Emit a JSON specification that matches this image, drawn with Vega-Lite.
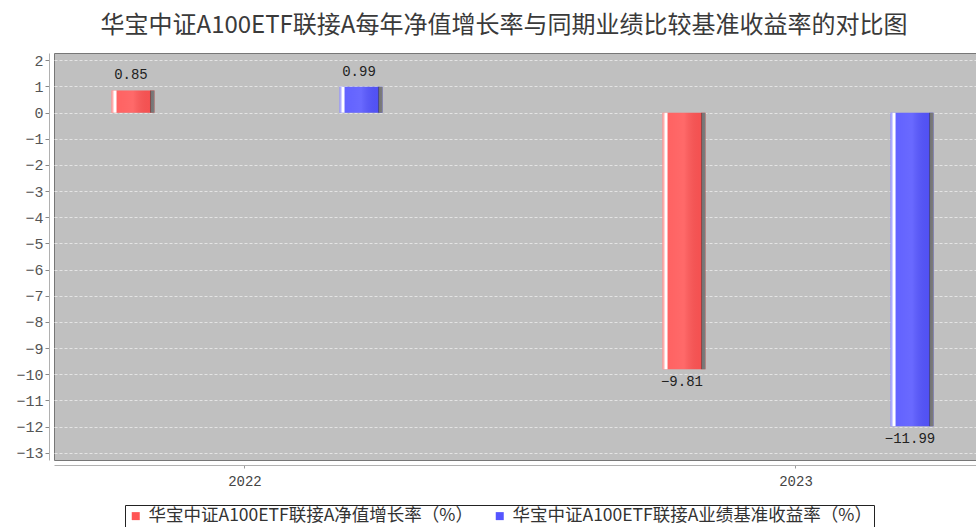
{
  "$schema": "https://vega.github.io/schema/vega-lite/v6.json",
  "autosize": {"type": "none"},
  "padding": {"left": 54, "top": 53, "right": 0, "bottom": 67},
  "width": 922,
  "height": 407,
  "background": "white",
  "title": {
    "text": "华宝中证A100ETF联接A每年净值增长率与同期业绩比较基准收益率的对比图",
    "font": "Noto Sans CJK SC",
    "fontSize": 24,
    "fontWeight": "normal",
    "color": "#3a3a3a",
    "anchor": "middle",
    "frame": "group",
    "dx": -11,
    "offset": 15
  },
  "config": {
    "view": {"fill": "#c0c0c0", "stroke": "#777777", "strokeWidth": 1}
  },
  "data": {
    "values": [
      {"year": "2022", "series": "华宝中证A100ETF联接A净值增长率（%）", "value": 0.85},
      {"year": "2022", "series": "华宝中证A100ETF联接A业绩基准收益率（%）", "value": 0.99},
      {"year": "2023", "series": "华宝中证A100ETF联接A净值增长率（%）", "value": -9.81},
      {"year": "2023", "series": "华宝中证A100ETF联接A业绩基准收益率（%）", "value": -11.99}
    ]
  },
  "encoding": {
    "x": {
      "field": "year",
      "type": "nominal",
      "scale": {"paddingInner": 0.5009, "paddingOuter": 0.0871, "align": 0.557},
      "axis": {
        "title": null,
        "grid": false,
        "labelAngle": 0,
        "offset": 5,
        "domainColor": "#b0b0b0",
        "tickColor": "#999999",
        "tickSize": 3,
        "labelFont": "Liberation Mono",
        "labelFontSize": 14,
        "labelColor": "#444444",
        "labelPadding": 6
      }
    },
    "xOffset": {
      "field": "series",
      "type": "nominal",
      "scale": {
        "domain": ["华宝中证A100ETF联接A净值增长率（%）", "华宝中证A100ETF联接A业绩基准收益率（%）"],
        "paddingInner": 0.8114,
        "paddingOuter": 0.00877,
        "align": 1
      }
    },
    "y": {
      "field": "value",
      "type": "quantitative",
      "scale": {"domain": [-13.28, 2.28], "nice": false, "zero": false},
      "axis": {
        "title": null,
        "values": [-13, -12, -11, -10, -9, -8, -7, -6, -5, -4, -3, -2, -1, 0, 1, 2],
        "format": "d",
        "offset": 5,
        "domainColor": "#b0b0b0",
        "tickColor": "#888888",
        "tickSize": 4,
        "labelPadding": 2,
        "labelFont": "Liberation Mono",
        "labelFontSize": 15,
        "labelColor": "#555555",
        "grid": true,
        "gridColor": "#e4e4e4",
        "gridDash": [3, 2],
        "gridWidth": 1
      }
    }
  },
  "layer": [
    {
      "mark": {"type": "bar"},
      "encoding": {
        "y2": {"datum": 0},
        "color": {
          "field": "series",
          "type": "nominal",
          "scale": {
            "domain": ["华宝中证A100ETF联接A净值增长率（%）", "华宝中证A100ETF联接A业绩基准收益率（%）"],
            "range": ["#ff5555", "#5555ff"]
          },
          "legend": {
            "orient": "none",
            "legendX": 71,
            "legendY": 452,
            "direction": "horizontal",
            "title": null,
            "symbolType": "square",
            "symbolSize": 64,
            "symbolStrokeWidth": 0,
            "labelFont": "Noto Sans CJK SC",
            "labelFontSize": 17.5,
            "labelColor": "#333333",
            "labelLimit": 500,
            "labelOffset": 4,
            "strokeColor": "#222222",
            "fillColor": "white",
            "padding": 2,
            "columnPadding": 18
          }
        }
      }
    },
    {
      "mark": {
        "type": "bar",
        "fill": {
          "gradient": "linear",
          "x1": 0, "x2": 1, "y1": 0, "y2": 0,
          "stops": [
            {"offset": 0, "color": "rgba(255,255,255,0.45)"},
            {"offset": 0.045, "color": "rgba(255,255,255,0.55)"},
            {"offset": 0.05, "color": "rgba(255,255,255,1)"},
            {"offset": 0.11, "color": "rgba(255,255,255,1)"},
            {"offset": 0.125, "color": "rgba(255,255,255,0.08)"},
            {"offset": 0.5, "color": "rgba(255,255,255,0.12)"},
            {"offset": 0.88, "color": "rgba(0,0,0,0.04)"},
            {"offset": 0.905, "color": "rgba(0,0,0,0.1)"},
            {"offset": 0.91, "color": "rgba(115,115,115,1)"},
            {"offset": 1, "color": "rgba(125,125,125,1)"}
          ]
        }
      },
      "encoding": {"y2": {"datum": 0}}
    },
    {
      "transform": [{"filter": "datum.value >= 0"}],
      "mark": {"type": "text", "baseline": "bottom", "dy": -8, "dx": -2, "font": "Liberation Mono", "fontSize": 14, "color": "#222222"},
      "encoding": {"text": {"field": "value", "type": "quantitative", "format": ".2f"}}
    },
    {
      "transform": [{"filter": "datum.value < 0"}],
      "mark": {"type": "text", "baseline": "top", "dy": 6, "dx": -2, "font": "Liberation Mono", "fontSize": 14, "color": "#222222"},
      "encoding": {"text": {"field": "value", "type": "quantitative", "format": ".2f"}}
    }
  ]
}
